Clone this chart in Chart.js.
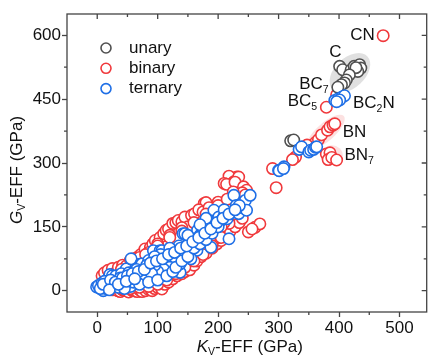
<!DOCTYPE html>
<html>
<head>
<meta charset="utf-8">
<script src="https://cdn.jsdelivr.net/npm/chart.js@4.4.1/dist/chart.umd.min.js"></script>
<style>
  html, body { margin: 0; padding: 0; background: #fff; }
  #wrap { width: 434px; height: 357px; }
</style>
</head>
<body>
<div id="wrap"><canvas id="chart" width="434" height="357"></canvas></div>
<script>
// values, [K_V, G_V] in GPa
const unaryPts = [
  [401,527],[406,519],[420,519],[425,527],[434,531],[436,523],[431,515],[428,524],
  [417,507],[412,495],[409,488],[404,484],[398,478],[320,352],[325,354]
];
const binaryPts = [
  [473,599],[396,460],[379,431],
  [361,348],[366,355],[371,366],[381,377],[385,385],[390,389],[393,392],
  [379,321],[385,324],[382,308],[388,313],[396,307],
  [328,314],[323,308],[347,342],[290,287],[296,242],
  [231,267],[218,269],[226,256],[210,252],[214,250],[234,267],[228,255],[242,244],[247,236],
  [177,205],[180,207],[250,138],[261,149],[269,157],[256,145],
  [8,35],[12,42],[18,48],[25,52],[28,40],[35,55],[42,60],[48,58],[55,72],[61,75],
  [68,80],[72,85],[79,98],[88,102],[92,110],[96,118],[104,125],[110,134],[114,142],
  [118,145],[125,158],[130,160],[134,165],[140,162],[145,173],[156,177],[161,181],
  [168,190],[175,185],[185,195],[190,178],[198,190],[205,196],[212,205],[200,208],
  [160,155],[150,150],[140,148],[120,130],[100,110],[85,90],[70,78],[58,60],[45,45],[30,30],
  [25,2],[29,8],[34,0],[38,-2],[42,2],[48,0],[52,-3],[58,0],[61,0],[66,-2],[70,2],
  [74,-2],[80,0],[85,3],[88,4],[91,0],[95,5],[100,8],[107,6],[107,4],[112,15],
  [118,20],[125,28],[132,35],[140,40],[145,45],[153,49],[160,60],[165,70],[172,80],
  [180,88],[190,100],[198,110],[205,118],[212,128],[220,140],[228,150],[235,160],
  [240,170],[218,158],[200,125],
  [60,25],[75,30],[90,40],[105,55],[120,70],[135,85],[150,95],[165,110],[180,125],
  [195,140],[210,160],[225,180],[235,195],[50,15],[65,15],[80,20],[100,30],[115,45],
  [130,60],[145,75],[160,90],[175,105],[190,130],[205,150],[220,200],[230,210],
  [240,230],[245,225],[225,232],
  [40,5],[55,5],[70,8],[85,10],[100,15],[115,25],[130,40],[145,55],[160,70],[175,85],
  [190,105],[205,125],[20,35],[40,50],[60,65],[80,85],[100,105],[120,125],[140,140],
  [160,160],[180,180],[200,200],[215,215]
];
const ternaryPts = [
  [393,447],[399,451],[405,455],[409,458],[401,448],[396,444],
  [334,332],[338,338],[350,326],[353,330],[358,332],[361,337],[363,338],
  [300,283],[309,291],[301,282],[308,287],
  [-1,9],[2,12],[10,0],[8,18],[18,28],[21,38],[25,35],[31,31],[31,35],[40,25],
  [45,20],[50,12],[48,51],[56,75],[64,35],[60,45],[72,63],[70,40],[74,63],[80,35],
  [80,39],[85,71],[88,31],[88,55],[93,94],[99,71],[104,94],[107,59],[107,94],[115,71],
  [120,71],[110,80],[125,95],[131,98],[137,43],[139,94],[142,134],[137,63],[145,134],
  [150,110],[156,90],[160,120],[166,142],[170,130],[177,118],[182,149],[185,160],
  [188,102],[193,189],[199,169],[201,173],[195,150],[205,165],[210,175],[215,169],
  [218,122],[226,224],[225,185],[234,181],[240,195],[245,212],[247,189],[253,224],
  [230,200],[165,95],[155,75],[145,85],[130,75],[120,55],[110,50],[100,45],[95,60],
  [90,40],[75,25],[65,20],[55,10],[35,8],[20,10],[15,5],[60,20],[70,15],[45,5],
  [55,30],[40,40],[28,20],[12,22],[5,5],[85,20],[100,25],[115,35],[125,45],[130,55],
  [140,70],[150,80],[160,100],[170,110],[175,140],[180,120],[190,135],[200,150],
  [210,190],[235,200],[180,170],[170,155],[155,120],[150,130],[135,105],[120,100],
  [105,85],[95,80],[82,60],[65,50],[52,42],[38,30],
  [10,15],[22,25],[30,20],[42,30],[50,35],[58,40],[68,45],[78,50],[88,65],[98,70],
  [108,75],[118,85],[128,90],[138,100],[148,105],[158,115],[168,125],[178,135],
  [188,145],[198,160],[208,170],[218,180],[228,190],[20,2],[35,15],[48,22],[62,28]
];

const seriesNames = ['unary', 'binary', 'ternary'];
const xTickValues = [0, 100, 200, 300, 400, 500];
const yTickValues = [0, 150, 300, 450, 600];
const xMinorValues = [50, 150, 250, 350, 450];
const yMinorValues = [75, 225, 375, 525];

// compound labels: text pieces ('' normal, 'sub' subscript) at data coords
const compoundLabels = [
  { parts: [['CN', '']], k: 459, g: 600, align: 'right' },
  { parts: [['C', '']], k: 394, g: 561, align: 'center' },
  { parts: [['BC', ''], ['7', 'sub']], k: 334, g: 484, align: 'left' },
  { parts: [['BC', ''], ['5', 'sub']], k: 315, g: 444, align: 'left' },
  { parts: [['BC', ''], ['2', 'sub'], ['N', '']], k: 423, g: 440, align: 'left' },
  { parts: [['BN', '']], k: 406, g: 372, align: 'left' },
  { parts: [['BN', ''], ['7', 'sub']], k: 409, g: 318, align: 'left' }
];

const FONT = "'Liberation Sans', Arial, sans-serif";
const FS = 17;
const AXIS_COLOR = '#444';
const colors = { unary: '#505050', binary: '#f0393c', ternary: '#1f6fe6' };

function toXY(pts) {
  return pts.map(p => ({ x: p[0], y: p[1] }));
}

function pieceFont(kind, size) {
  if (kind === 'sub') return (size * 0.62) + 'px ' + FONT;
  if (kind === 'i') return 'italic ' + size + 'px ' + FONT;
  return size + 'px ' + FONT;
}

function drawRich(ctx, parts, x, y, size, align) {
  let w = 0;
  parts.forEach(p => { ctx.font = pieceFont(p[1], size); w += ctx.measureText(p[0]).width; });
  let cx = align === 'center' ? x - w / 2 : align === 'right' ? x - w : x;
  ctx.textAlign = 'left';
  ctx.textBaseline = 'middle';
  parts.forEach(p => {
    ctx.font = pieceFont(p[1], size);
    ctx.fillText(p[0], cx, y + (p[1] === 'sub' ? size * 0.32 : 0));
    cx += ctx.measureText(p[0]).width;
  });
}

// shaded blobs behind the clusters
const highlightPlugin = {
  id: 'highlight',
  beforeDatasetsDraw(chart) {
    const { ctx, scales: { x, y } } = chart;
    const blobs = [
      { k: 418, g: 512, rx: 24, ry: 15, rot: -0.75, color: 'rgba(160,160,160,0.32)' },
      { k: 400, g: 450, rx: 11, ry: 7, rot: -0.4, color: 'rgba(120,160,240,0.3)' },
      { k: 378, g: 373, rx: 24, ry: 9, rot: -0.72, color: 'rgba(240,120,120,0.22)' },
      { k: 388, g: 318, rx: 11, ry: 10, rot: 0, color: 'rgba(240,120,120,0.22)' }
    ];
    ctx.save();
    blobs.forEach(b => {
      ctx.beginPath();
      ctx.ellipse(x.getPixelForValue(b.k), y.getPixelForValue(b.g), b.rx, b.ry, b.rot, 0, Math.PI * 2);
      ctx.fillStyle = b.color;
      ctx.fill();
    });
    ctx.restore();
  }
};

// frame, minor ticks, mirrored ticks, legend, labels, axis titles
const decorPlugin = {
  id: 'decor',
  afterDraw(chart) {
    const { ctx, chartArea: a, scales: { x, y } } = chart;
    ctx.save();
    ctx.strokeStyle = AXIS_COLOR;
    ctx.lineWidth = 1.3;
    ctx.strokeRect(a.left, a.top, a.right - a.left, a.bottom - a.top);

    ctx.beginPath();
    xTickValues.forEach(v => {
      const px = x.getPixelForValue(v);
      ctx.moveTo(px, a.top); ctx.lineTo(px, a.top + 5);
    });
    xMinorValues.forEach(v => {
      const px = x.getPixelForValue(v);
      ctx.moveTo(px, a.bottom); ctx.lineTo(px, a.bottom + 3);
      ctx.moveTo(px, a.top); ctx.lineTo(px, a.top + 3);
    });
    yTickValues.forEach(v => {
      const py = y.getPixelForValue(v);
      ctx.moveTo(a.right, py); ctx.lineTo(a.right - 5, py);
    });
    yMinorValues.forEach(v => {
      const py = y.getPixelForValue(v);
      ctx.moveTo(a.left, py); ctx.lineTo(a.left - 3, py);
      ctx.moveTo(a.right, py); ctx.lineTo(a.right - 3, py);
    });
    ctx.stroke();

    // legend
    seriesNames.forEach((name, i) => {
      const ly = 48 + i * 20.3;
      ctx.beginPath();
      ctx.arc(106, ly, 5, 0, Math.PI * 2);
      ctx.fillStyle = '#fff';
      ctx.fill();
      ctx.lineWidth = 1.6;
      ctx.strokeStyle = colors[name];
      ctx.stroke();
      ctx.fillStyle = '#111';
      drawRich(ctx, [[name, '']], 129, ly, FS, 'left');
    });

    ctx.fillStyle = '#111';
    compoundLabels.forEach(l => {
      drawRich(ctx, l.parts, x.getPixelForValue(l.k), y.getPixelForValue(l.g), FS, l.align);
    });

    drawRich(ctx, [['K', 'i'], ['V', 'sub'], ['-EFF (GPa)', '']], (a.left + a.right) / 2 + 3, 347, FS, 'center');
    ctx.translate(17, (a.top + a.bottom) / 2 + 7);
    ctx.rotate(-Math.PI / 2);
    drawRich(ctx, [['G', 'i'], ['V', 'sub'], ['-EFF (GPa)', '']], 0, 0, FS, 'center');
    ctx.restore();
  }
};

function makeDataset(name, pts) {
  return {
    label: name,
    data: toXY(pts),
    borderColor: colors[name],
    backgroundColor: '#fff',
    borderWidth: 1.6,
    pointRadius: 5.7,
    pointHoverRadius: 5.7
  };
}

const ctx = document.getElementById('chart').getContext('2d');
new Chart(ctx, {
  type: 'scatter',
  data: {
    datasets: [
      makeDataset('ternary', ternaryPts),
      makeDataset('unary', unaryPts),
      makeDataset('binary', binaryPts)
    ]
  },
  options: {
    responsive: false,
    animation: false,
    devicePixelRatio: 1,
    layout: { padding: { top: 14, right: 1, left: 0, bottom: 0 } },
    plugins: { legend: { display: false }, tooltip: { enabled: false } },
    scales: {
      x: {
        type: 'linear',
        min: -50,
        max: 545,
        afterFit: s => { s.height = 45; },
        afterBuildTicks: s => { s.ticks = xTickValues.map(v => ({ value: v })); },
        border: { display: false },
        grid: { drawOnChartArea: false, drawTicks: true, tickLength: 5, tickColor: AXIS_COLOR, tickWidth: 1.3 },
        ticks: { color: '#111', font: { family: FONT, size: FS }, padding: 1, maxRotation: 0 }
      },
      y: {
        type: 'linear',
        min: -50,
        max: 650,
        afterFit: s => { s.width = 67; },
        afterBuildTicks: s => { s.ticks = yTickValues.map(v => ({ value: v })); },
        border: { display: false },
        grid: { drawOnChartArea: false, drawTicks: true, tickLength: 5, tickColor: AXIS_COLOR, tickWidth: 1.3 },
        ticks: { color: '#111', font: { family: FONT, size: FS }, padding: 1 }
      }
    }
  },
  plugins: [highlightPlugin, decorPlugin]
});
</script>
</body>
</html>
